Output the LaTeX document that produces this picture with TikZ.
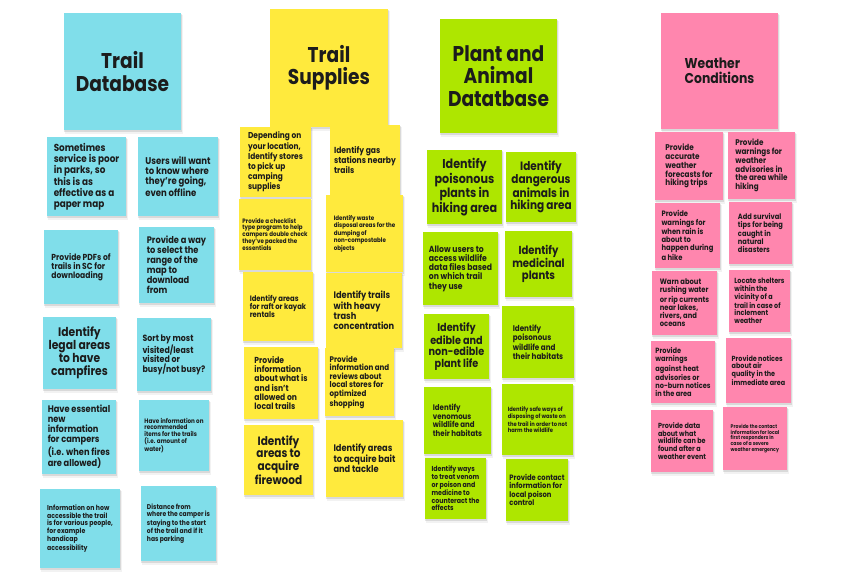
\documentclass[tikz,border=0pt]{standalone}
\usepackage{fontspec}
\setmainfont{Poppins}[FakeStretch=0.87]
\definecolor{stickyCyan}{HTML}{80DEEA}
\definecolor{stickyYellow}{HTML}{FFEA3D}
\definecolor{stickyGreen}{HTML}{AEE600}
\definecolor{stickyPink}{HTML}{FF86AE}
\definecolor{inkText}{HTML}{1C1C1C}
\tikzset{
  notebody/.style={fill=#1, draw=none, inner sep=0pt, text=inkText},
}
% \sticky{name}{x1}{y1}{x2}{y2}{colour}{line spacing}{alignment}{text}
\newcommand\sticky[9]{%
  \fill[black,opacity=0.05] (#2+0.5,#3+2) rectangle (#4+1.5,#5+4);
  \fill[black,opacity=0.10] (#2,#3+1) rectangle (#4+0.7,#5+2);
  \pgfmathsetmacro\notefs{0.95*#7}%
  \pgfmathsetmacro\notew{#4-#2}%
  \pgfmathsetmacro\noteh{#5-#3}%
  \node[notebody=#6, minimum width=\notew pt, minimum height=\noteh pt,
        align=#8, font=\bfseries\fontsize{\notefs}{#7}\selectfont]
    (#1) at ({(#2+#4)/2},{(#3+#5)/2}) {#9};
}
\begin{document}
\begin{tikzpicture}[x=1pt,y=-1pt]
\fill[white] (0,0) rectangle (844,579);
\useasboundingbox (0,0) rectangle (844,579);

% ---- Trail Database ----
\sticky{tdHead}{64}{13}{181}{130}{stickyCyan}{22.5}{center}{Trail\\Database}
\sticky{td1}{47}{137}{126}{216}{stickyCyan}{10.7}{left}{Sometimes\\service is poor\\in parks, so\\this is as\\effective as a\\paper map}
\sticky{td2}{138}{137}{218}{216}{stickyCyan}{10.3}{left}{Users will want\\to know where\\they're going,\\even offline}
\sticky{td3}{44}{230}{118}{304}{stickyCyan}{9.2}{left}{Provide PDFs of\\trails in SC for\\downloading}
\sticky{td4}{139}{227}{214}{303}{stickyCyan}{10}{left}{Provide a way\\to select the\\range of the\\map to\\download\\from}
\sticky{td5}{43}{317}{116}{389}{stickyCyan}{13}{center}{Identify\\legal areas\\to have\\campfires}
\sticky{td6}{137}{318}{211}{391}{stickyCyan}{9.5}{left}{Sort by most\\visited/least\\visited or\\busy/not busy?}
\sticky{td7}{42}{400}{116}{474}{stickyCyan}{10}{left}{Have essential\\new\\information\\for campers\\(i.e. when fires\\are allowed)}
\sticky{td8}{139}{400}{209}{471}{stickyCyan}{6.8}{left}{Have information on\\recommended\\items for the trails\\(i.e. amount of\\water)}
\sticky{td9}{40}{489}{120}{568}{stickyCyan}{7.5}{left}{Information on how\\accessible the trail\\is for various people,\\for example\\handicap\\accessibility}
\sticky{td10}{141}{486}{216}{561}{stickyCyan}{7.3}{left}{Distance from\\where the camper is\\staying to the start\\of the trail and if it\\has parking}

% ---- Trail Supplies ----
\sticky{tsHead}{270}{9}{388}{127}{stickyYellow}{22.5}{center}{Trail\\Supplies}
\sticky{ts1}{240}{127}{311}{197}{stickyYellow}{9}{left}{Depending on\\your location,\\Identify stores\\to pick up\\camping\\supplies}
\sticky{ts2}{330}{125}{400}{195}{stickyYellow}{9.2}{left}{Identify gas\\stations nearby\\trails}
\sticky{ts3}{239}{199}{311}{270}{stickyYellow}{6.7}{left}{Provide a checklist\\type program to help\\campers double check\\they've packed the\\essentials}
\sticky{ts4}{326}{195}{403}{272}{stickyYellow}{6.7}{left}{Identify waste\\disposal areas for the\\dumping of\\non-compostable\\objects}
\sticky{ts5}{243}{272}{313}{341}{stickyYellow}{8.3}{left}{Identify areas\\for raft or kayak\\rentals}
\sticky{ts6}{326}{273}{402}{348}{stickyYellow}{10}{left}{Identify trails\\with heavy\\trash\\concentration}
\sticky{ts7}{244}{347}{318}{419}{stickyYellow}{9.2}{left}{Provide\\information\\about what is\\and isn't\\allowed on\\local trails}
\sticky{ts8}{325}{348}{394}{416}{stickyYellow}{8.6}{left}{Provide\\information and\\reviews about\\local stores for\\optimized\\shopping}
\sticky{ts9}{244}{425}{313}{495}{stickyYellow}{12.7}{center}{Identify\\areas to\\acquire\\firewood}
\sticky{ts10}{326}{420}{403}{497}{stickyYellow}{10}{left}{Identify areas\\to acquire bait\\and tackle}

% ---- Plant and Animal Datatbase ----
\sticky{paHead}{440}{19}{557}{133}{stickyGreen}{22.5}{center}{Plant and\\Animal\\Datatbase}
\sticky{pa1}{427}{150}{502}{224}{stickyGreen}{13.5}{center}{Identify\\poisonous\\plants in\\hiking area}
\sticky{pa2}{506}{152}{576}{222}{stickyGreen}{12.7}{center}{Identify\\dangerous\\animals in\\hiking area}
\sticky{pa3}{423}{232}{498}{305}{stickyGreen}{9.3}{left}{Allow users to\\access wildlife\\data files based\\on which trail\\they use}
\sticky{pa4}{505}{231}{572}{297}{stickyGreen}{12.2}{center}{Identify\\medicinal\\plants}
\sticky{pa5}{424}{314}{489}{379}{stickyGreen}{11.7}{center}{Identify\\edible and\\non-edible\\plant life}
\sticky{pa6}{502}{306}{574}{378}{stickyGreen}{8.7}{left}{Identify\\poisonous\\wildlife and\\their habitats}
\sticky{pa7}{424}{387}{491}{454}{stickyGreen}{8.5}{left}{Identify\\venomous\\wildlife and\\their habitats}
\sticky{pa8}{502}{384}{573}{455}{stickyGreen}{6.3}{left}{Identify safe ways of\\disposing of waste on\\the trail in order to not\\harm the wildlife}
\sticky{pa9}{425}{458}{486}{519}{stickyGreen}{7.6}{left}{Identify ways\\to treat venom\\or poison and\\medicine to\\counteract the\\effects}
\sticky{pa10}{506}{459}{568}{521}{stickyGreen}{8.2}{left}{Provide contact\\information for\\local poison\\control}

% ---- Weather Conditions ----
\sticky{wcHead}{661}{13}{778}{129}{stickyPink}{15}{left}{Weather\\Conditions}
\sticky{wc1}{655}{132}{723}{200}{stickyPink}{8.8}{left}{Provide\\accurate\\weather\\forecasts for\\hiking trips}
\sticky{wc2}{728}{132}{795}{199}{stickyPink}{8.7}{left}{Provide\\warnings for\\weather\\advisories in\\the area while\\hiking}
\sticky{wc3}{655}{203}{720}{268}{stickyPink}{8.2}{left}{Provide\\warnings for\\when rain is\\about to\\happen during\\a hike}
\sticky{wc4}{729}{202}{792}{264}{stickyPink}{8.1}{left}{Add survival\\tips for being\\caught in\\natural\\disasters}
\sticky{wc5}{652}{271}{717}{335}{stickyPink}{8.2}{left}{Warn about\\rushing water\\or rip currents\\near lakes,\\rivers, and\\oceans}
\sticky{wc6}{729}{270}{790}{332}{stickyPink}{7.8}{left}{Locate shelters\\within the\\vicinity of a\\trail in case of\\inclement\\weather}
\sticky{wc7}{651}{341}{715}{403}{stickyPink}{8}{left}{Provide\\warnings\\against heat\\advisories or\\no-burn notices\\in the area}
\sticky{wc8}{726}{338}{791}{403}{stickyPink}{7.8}{left}{Provide notices\\about air\\quality in the\\immediate area}
\sticky{wc9}{651}{410}{713}{472}{stickyPink}{7.8}{left}{Provide data\\about what\\wildlife can be\\found after a\\weather event}
\sticky{wc10}{723}{407}{787}{470}{stickyPink}{5.6}{left}{Provide the contact\\information for local\\first responders in\\case of a severe\\weather emergency}
\end{tikzpicture}
\end{document}
